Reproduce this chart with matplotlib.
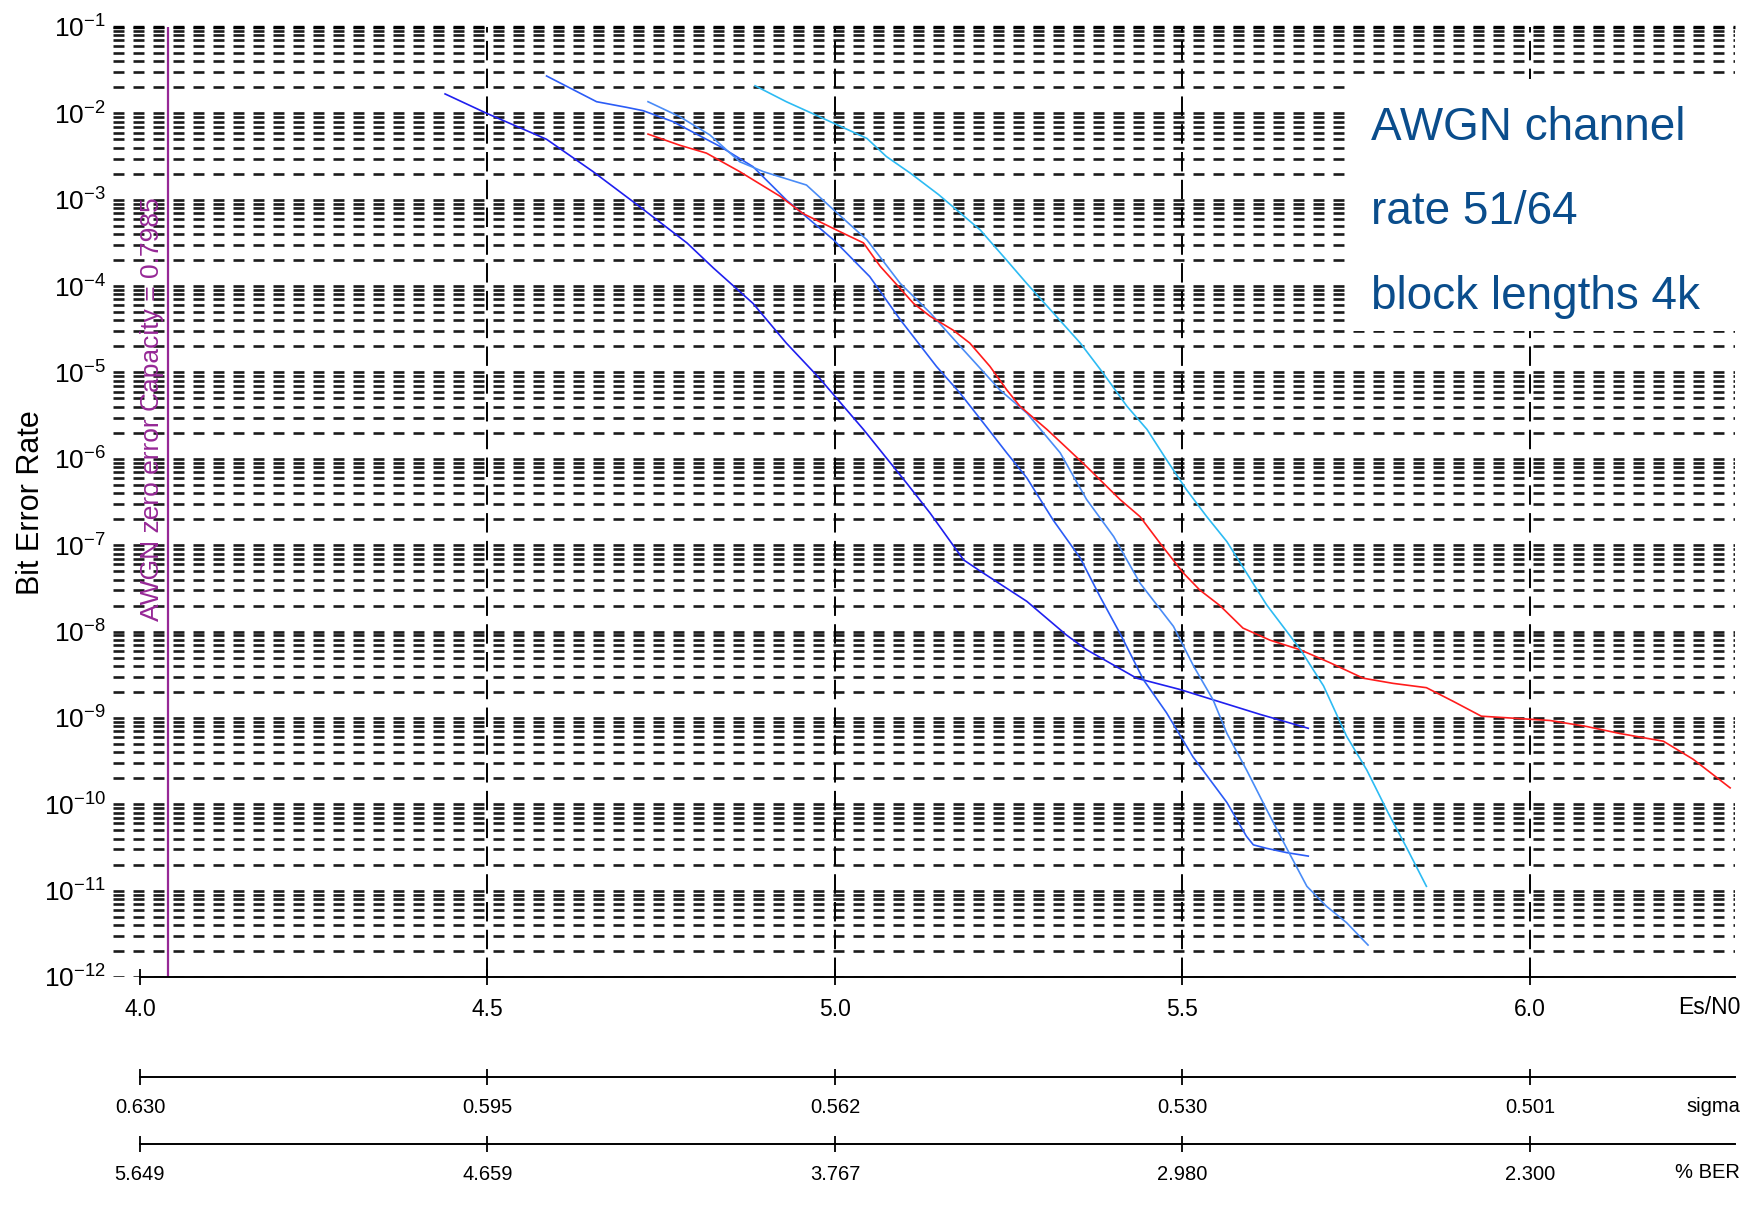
import matplotlib
matplotlib.use('Agg')
import matplotlib.pyplot as plt
from matplotlib.patches import Rectangle
from matplotlib.ticker import LogLocator, NullFormatter
import numpy as np

plt.rcParams['font.family'] = ['Liberation Sans', 'DejaVu Sans']
plt.rcParams['mathtext.default'] = 'regular'
plt.rcParams['lines.scale_dashes'] = False

# x axis: Es/N0 ticks and the matching sigma / %BER scales
esn0_ticks = [4.0, 4.5, 5.0, 5.5, 6.0]
esn0_labels = ['4.0', '4.5', '5.0', '5.5', '6.0']
sigma_labels = ['0.630', '0.595', '0.562', '0.530', '0.501']
pber_labels = ['5.649', '4.659', '3.767', '2.980', '2.300']

capacity_esn0 = 4.041
capacity_text = 'AWGN zero error Capacity = 0.7985'
note_lines = ['AWGN channel', 'rate 51/64', 'block lengths 4k']

# curves, Es/N0 and log10(BER)
c1_x = [4.439, 4.499, 4.585, 4.652, 4.719, 4.787, 4.825, 4.882, 4.930, 4.978, 5.041, 5.103,
        5.137, 5.185, 5.209, 5.276, 5.333, 5.362, 5.434, 5.496, 5.544, 5.612, 5.681]
c1_e = [-1.775, -2.00, -2.30, -2.675, -3.08, -3.50, -3.79, -4.20, -4.66, -5.07, -5.66, -6.28,
        -6.63, -7.17, -7.30, -7.65, -8.04, -8.21, -8.54, -8.67, -8.79, -8.96, -9.12]

c2_x = [4.585, 4.657, 4.700, 4.724, 4.767, 4.835, 4.882, 4.930, 4.998, 5.050, 5.094, 5.146,
        5.180, 5.218, 5.247, 5.276, 5.314, 5.353, 5.381, 5.410, 5.444, 5.477, 5.515, 5.564,
        5.592, 5.602, 5.621, 5.650, 5.681]
c2_e = [-1.567, -1.865, -1.930, -1.969, -2.096, -2.385, -2.617, -3.002, -3.465, -3.89, -4.39, -4.93,
        -5.24, -5.63, -5.93, -6.22, -6.71, -7.15, -7.59, -8.02, -8.56, -8.94, -9.45, -9.98,
        -10.37, -10.47, -10.51, -10.56, -10.60]

c3_x = [4.731, 4.777, 4.820, 4.863, 4.897, 4.959, 4.993, 5.046, 5.094, 5.137, 5.185, 5.237,
        5.276, 5.324, 5.362, 5.401, 5.439, 5.487, 5.516, 5.544, 5.564, 5.592, 5.621, 5.650,
        5.679, 5.707, 5.736, 5.767]
c3_e = [-1.865, -2.04, -2.25, -2.56, -2.675, -2.83, -3.08, -3.465, -3.97, -4.31, -4.74, -5.20,
        -5.47, -5.93, -6.47, -6.90, -7.44, -7.94, -8.40, -8.79, -9.18, -9.60, -10.06, -10.51,
        -10.95, -11.18, -11.37, -11.63]

red_x = [4.731, 4.777, 4.815, 4.863, 4.921, 4.954, 5.002, 5.041, 5.065, 5.113, 5.137, 5.170,
         5.194, 5.223, 5.247, 5.266, 5.305, 5.329, 5.362, 5.410, 5.439, 5.468, 5.501, 5.525,
         5.554, 5.587, 5.626, 5.669, 5.712, 5.760, 5.803, 5.851, 5.890, 5.930, 6.029, 6.082,
         6.129, 6.192, 6.235, 6.288]
red_e = [-2.24, -2.37, -2.46, -2.675, -2.96, -3.16, -3.35, -3.50, -3.77, -4.20, -4.35, -4.51,
         -4.66, -4.93, -5.20, -5.39, -5.66, -5.84, -6.09, -6.47, -6.67, -6.98, -7.32, -7.52,
         -7.70, -7.96, -8.10, -8.21, -8.36, -8.54, -8.60, -8.65, -8.81, -8.98, -9.03, -9.10,
         -9.18, -9.27, -9.48, -9.81]

cyan_x = [4.885, 4.930, 4.978, 5.046, 5.074, 5.108, 5.149, 5.209, 5.247, 5.276, 5.314, 5.353,
          5.386, 5.420, 5.449, 5.477, 5.506, 5.535, 5.564, 5.621, 5.669, 5.703, 5.736, 5.765,
          5.796, 5.823, 5.851]
cyan_e = [-1.68, -1.865, -2.04, -2.29, -2.50, -2.69, -2.94, -3.35, -3.70, -3.97, -4.31, -4.66,
          -5.01, -5.39, -5.66, -6.01, -6.36, -6.67, -6.96, -7.69, -8.20, -8.63, -9.21, -9.60,
          -10.10, -10.51, -10.95]

curves = [
    (c1_x, c1_e, '#1f1fef'),
    (c2_x, c2_e, '#2b5cf6'),
    (c3_x, c3_e, '#4a8cf7'),
    (red_x, red_e, '#ff1c1c'),
    (cyan_x, cyan_e, '#2dbbf3'),
]

W, H = 1754, 1216
L, R = 113, 1735
X0, X1 = 3.9612, 6.295

fig = plt.figure(figsize=(W / 100, H / 100), dpi=100)
ax = fig.add_axes([L / W, 1 - 977 / H, (R - L) / W, 950 / H])
ax.set_yscale('log')
ax.set_xlim(X0, X1)
ax.set_ylim(1e-12, 1e-1)
ax.set_axisbelow(True)
for s in ['top', 'right', 'left']:
    ax.spines[s].set_visible(False)
ax.spines['bottom'].set_bounds(4.0, X1)
ax.spines['bottom'].set_linewidth(1.4)

ax.set_xticks(esn0_ticks, esn0_labels)
ax.tick_params(axis='x', direction='inout', length=12, width=1.3, pad=9, labelsize=16.5)
ax.yaxis.set_major_locator(LogLocator(base=10, numticks=20))
ax.yaxis.set_minor_locator(LogLocator(base=10, subs=np.arange(2, 10), numticks=20))
ax.yaxis.set_minor_formatter(NullFormatter())
ax.tick_params(axis='y', which='both', length=0, pad=5, labelsize=19)

# horizontal dashed grid at every decade and sub-decade
ax.grid(True, axis='y', which='both', color='#1a1a1a', linewidth=1.9, linestyle=(0, (7.9, 6.5)))
ax.axhline(1e-1, color='black', linewidth=2.4, linestyle=(0, (7.9, 6.5)), clip_on=False, zorder=0.6)

# vertical dashed lines at Es/N0 ticks
for xv in esn0_ticks[1:]:
    ax.axvline(xv, color='black', linewidth=1.4, linestyle=(0, (14, 6)), zorder=0.8)

# capacity line
ax.axvline(capacity_esn0, color='#962896', linewidth=1.6, zorder=2)
ax.annotate(capacity_text, xy=(capacity_esn0, 10 ** -7.88), xytext=(-3, 0),
            textcoords='offset points', rotation=90, ha='right', va='bottom',
            color='#962896', fontsize=19)

for xs, es, col in curves:
    ax.plot(xs, 10.0 ** np.array(es), color=col, linewidth=1.2, zorder=3)

# white note box with the text
box = Rectangle((5.743, 3.0e-5), X1 - 5.743, 2.5e-2 - 3.0e-5, facecolor='white',
                edgecolor='none', zorder=1)
ax.add_patch(box)
for txt, e in zip(note_lines, [-2.31, -3.28, -4.27]):
    ax.text(5.771, 10 ** e, txt, color='#0a4d8c', fontsize=33, ha='left', va='baseline', zorder=4)

fig.text(31 / W, 1 - 503 / H, 'Bit Error Rate', rotation=90, ha='center', va='center', fontsize=22)
fig.text(1740 / W, 1 - 1008 / H, 'Es/N0', ha='right', va='center', fontsize=16.5)


def scale_axis(ybase, labels, unit, unit_y):
    a = fig.add_axes([L / W, 1 - ybase / H, (R - L) / W, 0.0001])
    a.set_xlim(X0, X1)
    a.set_yticks([])
    a.patch.set_visible(False)
    for s in ['top', 'right', 'left']:
        a.spines[s].set_visible(False)
    a.spines['bottom'].set_bounds(4.0, X1)
    a.spines['bottom'].set_linewidth(1.4)
    a.set_xticks(esn0_ticks, labels)
    a.tick_params(axis='x', direction='inout', length=12, width=1.3, pad=9, labelsize=14.5)
    fig.text(1740 / W, 1 - unit_y / H, unit, ha='right', va='center', fontsize=14.5)


scale_axis(1077, sigma_labels, 'sigma', 1106)
scale_axis(1144, pber_labels, '% BER', 1173)

fig.savefig('out.png', dpi=100)
